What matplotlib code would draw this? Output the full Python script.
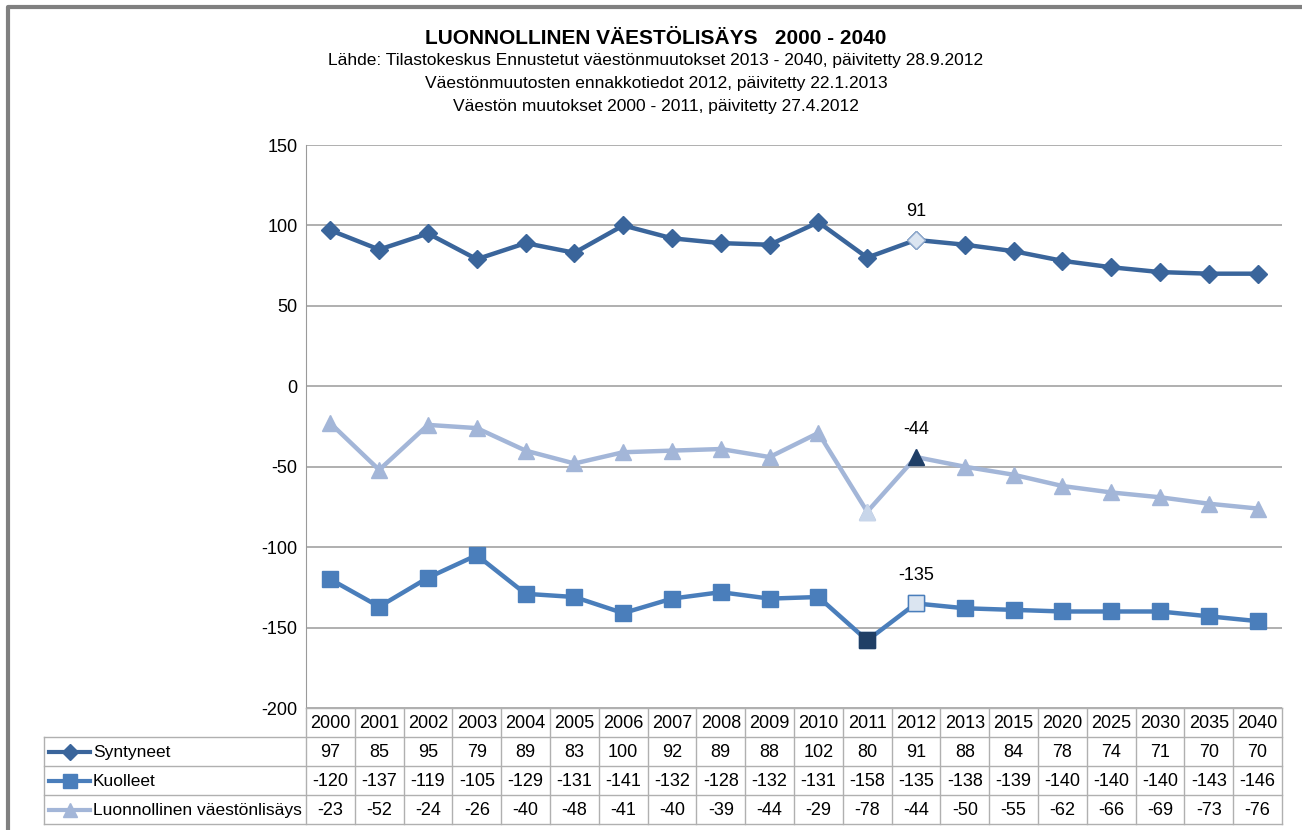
import matplotlib
matplotlib.use("Agg")
import matplotlib.pyplot as plt
from matplotlib.lines import Line2D

plt.rcParams["font.family"] = ["Liberation Sans", "DejaVu Sans"]

years = ["2000", "2001", "2002", "2003", "2004", "2005", "2006", "2007", "2008", "2009",
         "2010", "2011", "2012", "2013", "2015", "2020", "2025", "2030", "2035", "2040"]
syntyneet = [97, 85, 95, 79, 89, 83, 100, 92, 89, 88, 102, 80, 91, 88, 84, 78, 74, 71, 70, 70]
kuolleet = [-120, -137, -119, -105, -129, -131, -141, -132, -128, -132, -131, -158, -135,
            -138, -139, -140, -140, -140, -143, -146]
lisays = [-23, -52, -24, -26, -40, -48, -41, -40, -39, -44, -29, -78, -44, -50, -55, -62,
          -66, -69, -73, -76]
names = ["Syntyneet", "Kuolleet", "Luonnollinen väestönlisäys"]
yticks = [150, 100, 50, 0, -50, -100, -150, -200]

C_SYN = "#3a659b"
C_KUO = "#4a7ebb"
C_LIS = "#a3b6d8"
C_DARK = "#203f66"
C_LIGHT = "#dbe5f1"
GRID = "#9a9a9a"

W, H = 1302, 830
fig = plt.figure(figsize=(W / 100, H / 100), dpi=100)

# plot area in pixels
L, R, T, B = 306, 1282, 145, 708
ax = fig.add_axes([L / W, 1 - B / H, (R - L) / W, (B - T) / H])
n = len(years)
x = list(range(n))
ax.set_xlim(-0.5, n - 0.5)
ax.set_ylim(-200, 150)
ax.set_yticks(yticks)
ax.set_yticklabels([str(v) for v in yticks], fontsize=13)
ax.tick_params(axis="y", length=0, pad=6)
ax.set_xticks([])
for s in ["top", "right", "bottom"]:
    ax.spines[s].set_visible(False)
ax.spines["left"].set_color(GRID)
ax.grid(axis="y", color=GRID, lw=1.1)
ax.set_axisbelow(True)

ax.plot(x, syntyneet, color=C_SYN, lw=3.2, marker="D", ms=9, mfc=C_SYN, mec=C_SYN, zorder=3)
ax.plot(x, kuolleet, color=C_KUO, lw=3.2, marker="s", ms=11, mfc=C_KUO, mec=C_KUO, zorder=3)
ax.plot(x, lisays, color=C_LIS, lw=3.2, marker="^", ms=11, mfc=C_LIS, mec=C_LIS, zorder=3)

i12 = years.index("2012")
i11 = years.index("2011")
ax.plot(x[i12], syntyneet[i12], marker="D", ms=9, mfc=C_LIGHT, mec="#8fa9cc", zorder=4)
ax.plot(x[i12], kuolleet[i12], marker="s", ms=11, mfc=C_LIGHT, mec=C_KUO, zorder=4)
ax.plot(x[i11], kuolleet[i11], marker="s", ms=11, mfc=C_DARK, mec=C_DARK, zorder=4)
ax.plot(x[i11], lisays[i11], marker="^", ms=11, mfc="#c8d6ea", mec="#c8d6ea", zorder=4)
ax.plot(x[i12], lisays[i12], marker="^", ms=11, mfc=C_DARK, mec=C_DARK, zorder=4)
for ser in (syntyneet, lisays, kuolleet):
    ax.annotate(str(ser[i12]), (x[i12], ser[i12]), xytext=(0, 14), textcoords="offset points",
                ha="center", va="bottom", fontsize=13)

# overlay in pixel coordinates for table, title and frame
ov = fig.add_axes([0, 0, 1, 1], zorder=5)
ov.set_xlim(0, W)
ov.set_ylim(H, 0)
ov.axis("off")
ov.patch.set_alpha(0)

# frame
ov.plot([8, 8, W], [H, 7, 7], color="#808080", lw=3, solid_capstyle="butt")

ov.text(656, 39, "LUONNOLLINEN VÄESTÖLISÄYS   2000 - 2040", ha="center", va="center",
        fontsize=15, fontweight="bold")
subs = ["Lähde: Tilastokeskus Ennustetut väestönmuutokset 2013 - 2040, päivitetty 28.9.2012",
        "Väestönmuutosten ennakkotiedot 2012, päivitetty 22.1.2013",
        "Väestön muutokset 2000 - 2011, päivitetty 27.4.2012"]
for k, s in enumerate(subs):
    ov.text(656, 61 + 22.5 * k, s, ha="center", va="center", fontsize=12.5)

# data table
TL = 44
rows = [708, 737, 766, 795, 824]
cw = (R - L) / n
tc = "#b0b0b0"
ov.plot([L, L], [rows[0], rows[-1]], color=tc, lw=1)
ov.plot([TL, TL], [rows[1], rows[-1]], color=tc, lw=1)
for c in range(1, n + 1):
    ov.plot([L + c * cw] * 2, [rows[0], rows[-1]], color=tc, lw=1)
ov.plot([L, R], [rows[0], rows[0]], color=tc, lw=1)
for r in rows[1:]:
    ov.plot([TL, R], [r, r], color=tc, lw=1)
for c, yr in enumerate(years):
    ov.text(L + (c + 0.5) * cw, (rows[0] + rows[1]) / 2 + 1, yr, ha="center", va="center",
            fontsize=13)
series = [(syntyneet, C_SYN, "D", 8), (kuolleet, C_KUO, "s", 10), (lisays, C_LIS, "^", 10)]
for r, (vals, col, mk, ms) in enumerate(series):
    yc = (rows[r + 1] + rows[r + 2]) / 2 + 1
    ov.add_line(Line2D([49, 90], [yc - 1, yc - 1], color=col, lw=3))
    ov.plot([69.5], [yc - 1], marker=mk, ms=ms, color=col)
    ov.text(93, yc, names[r], ha="left", va="center", fontsize=12.5)
    for c, v in enumerate(vals):
        ov.text(L + (c + 0.5) * cw, yc, str(v), ha="center", va="center", fontsize=13)

fig.savefig("out.png", dpi=100)
